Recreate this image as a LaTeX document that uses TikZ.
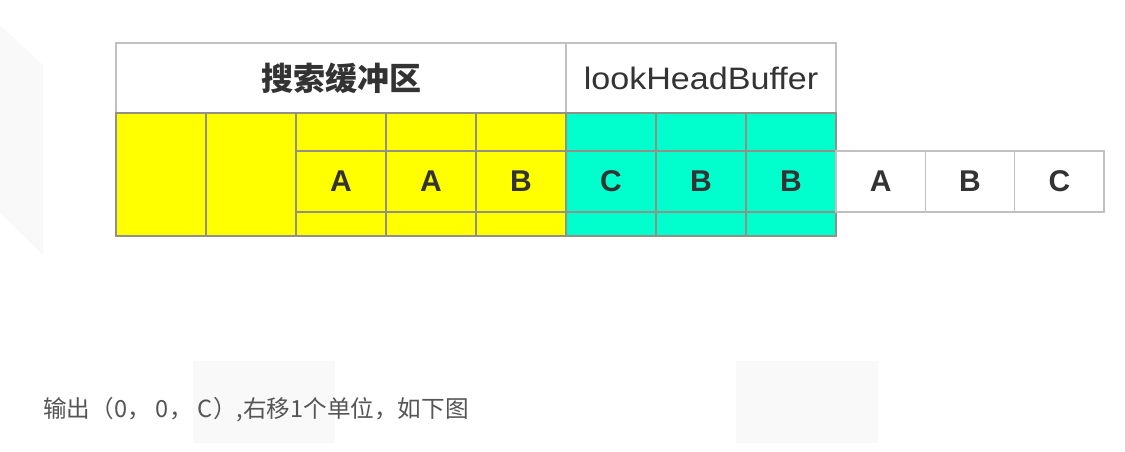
\documentclass[tikz,border=0pt]{standalone}
\usepackage{fontspec}
\setmainfont{Liberation Sans}
\newfontfamily\cjk{Noto Sans CJK SC}
\definecolor{ylw}{RGB}{255,255,0}
\definecolor{cyn}{RGB}{0,255,204}
\definecolor{lnc}{RGB}{145,145,135}
\definecolor{lnw}{RGB}{192,192,192}
\definecolor{txt}{RGB}{51,51,51}
\definecolor{txtb}{RGB}{85,85,85}
\definecolor{faint}{RGB}{249,249,249}
\begin{document}
\begin{tikzpicture}[x=1pt,y=-1pt,
  tallcell/.style={rectangle, anchor=north west, minimum width=90pt, minimum height=123pt,
    inner sep=0pt, outer sep=0pt, draw=lnc, line width=1.4pt},
  rowcell/.style={rectangle, anchor=north west, minimum width=90pt, minimum height=61pt,
    inner sep=0pt, outer sep=0pt, draw=lnc, line width=1.4pt, text=txt,
    font=\bfseries\fontsize{30}{30}\selectfont},
  whitecell/.style={rowcell, minimum width=89.33pt, draw=lnw, fill=white},
  hdr/.style={rectangle, anchor=north west, minimum height=70pt, inner sep=0pt,
    outer sep=0pt, draw=lnw, line width=1.4pt, fill=white, text=txt},
  faintfill/.style={fill=faint}
]
\useasboundingbox (0,0) rectangle (1125,451);
% faint background shapes
\fill[faintfill] (0,25) -- (43,65) -- (43,255) -- (0,213) -- cycle;
\fill[faintfill] (193,361) rectangle (335,443);
\fill[faintfill] (736,361) rectangle (878,443);
% headers
\node[hdr, minimum width=450pt, font=\cjk\bfseries\fontsize{32}{32}\selectfont] (h1) at (116,43) {搜索缓冲区};
\node[hdr, minimum width=270pt, font=\fontsize{31}{31}\selectfont] (h2) at (566,43) {\scalebox{1.1}[1]{lookHeadBuffer}};
% tall coloured cells
\foreach \i in {0,...,4} \node[tallcell, fill=ylw] (y\i) at (116+90*\i,113) {};
\foreach \i in {0,...,2} \node[tallcell, fill=cyn] (c\i) at (566+90*\i,113) {};
% inner row
\node[rowcell] (r1) at (296,151) {A};
\node[rowcell] (r2) at (386,151) {A};
\node[rowcell] (r3) at (476,151) {B};
\node[rowcell] (r4) at (566,151) {C};
\node[rowcell] (r5) at (656,151) {B};
\node[rowcell] (r6) at (746,151) {B};
\node[whitecell] (r7) at (836,151) {A};
\node[whitecell] (r8) at (925.33,151) {B};
\node[whitecell] (r9) at (1014.67,151) {C};
% caption
\node[anchor=base west, inner sep=0pt, text=txtb, font=\cjk\fontsize{23.6}{24}\selectfont] (cap) at (43,417) {输出（0， 0， C）,右移1个单位，如下图};
\end{tikzpicture}
\end{document}
